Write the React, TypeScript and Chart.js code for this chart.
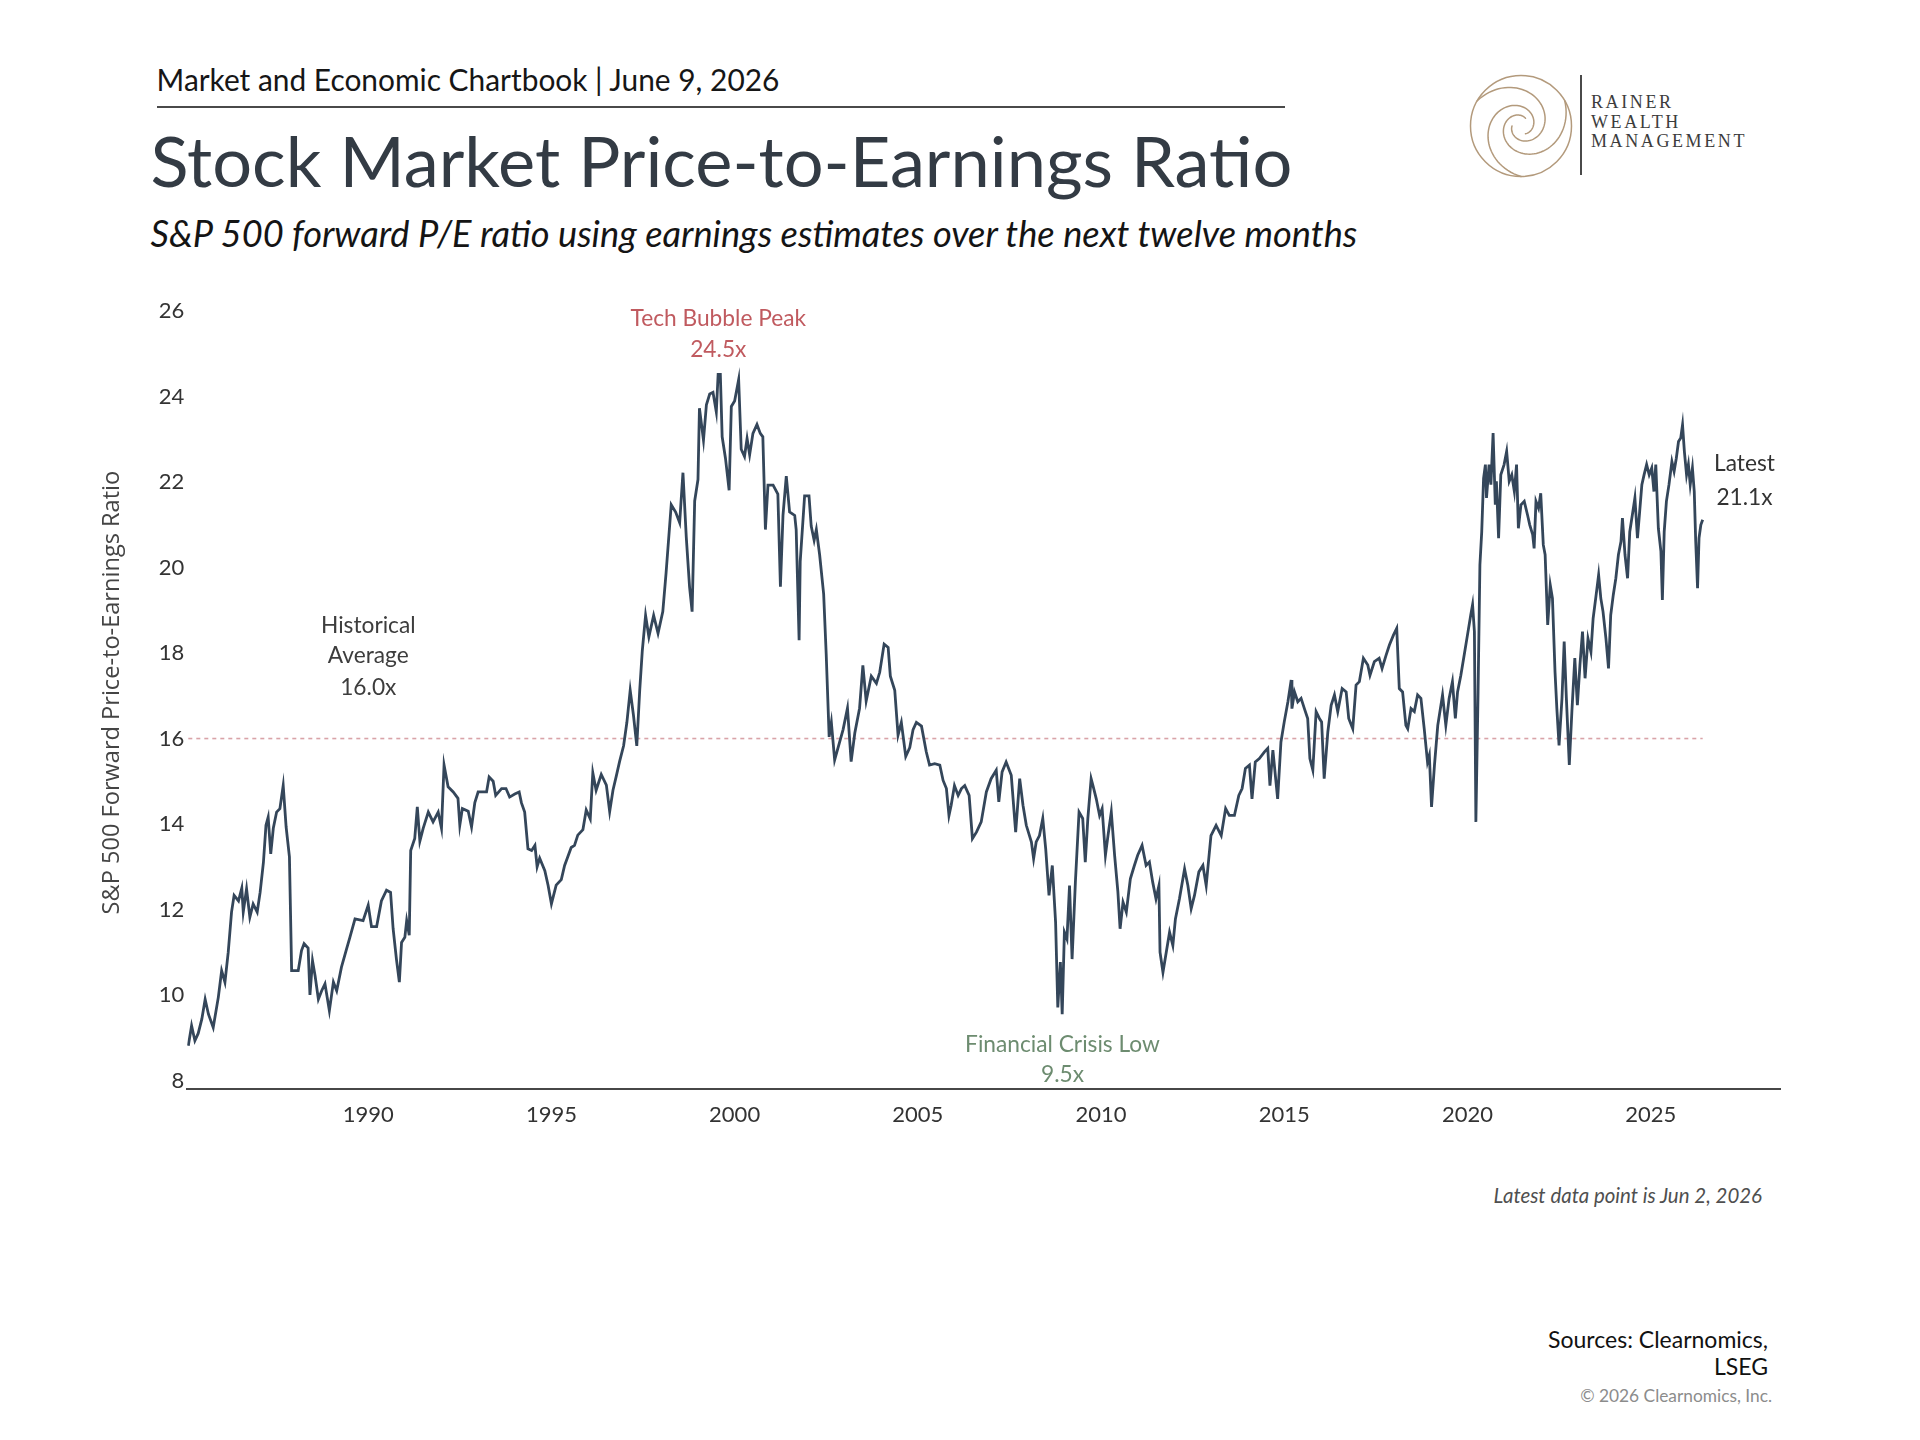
import React, { useEffect, useMemo, useRef } from 'react';
import { Chart, registerables } from 'chart.js';

Chart.register(...registerables);

// ---------- data ----------
const yearTicks: number[] = [1990, 1995, 2000, 2005, 2010, 2015, 2020, 2025];
const valueTicks: number[] = [8, 10, 12, 14, 16, 18, 20, 22, 24, 26];
const historicalAverage = 16.0;
const averageSpan: number[] = [1985.09, 2026.42];

const dates: number[] = [
  1985.09, 1985.18, 1985.27, 1985.36, 1985.46, 1985.55, 1985.64, 1985.77, 1985.91, 1986.0,
  1986.09, 1986.18, 1986.27, 1986.34, 1986.46, 1986.55, 1986.59, 1986.68, 1986.77, 1986.86,
  1986.97, 1987.05, 1987.14, 1987.21, 1987.27, 1987.34, 1987.41, 1987.5, 1987.59, 1987.68,
  1987.76, 1987.85, 1987.91, 1988.09, 1988.18, 1988.25, 1988.36, 1988.41, 1988.48, 1988.55,
  1988.64, 1988.73, 1988.82, 1988.94, 1989.05, 1989.14, 1989.27, 1989.41, 1989.5, 1989.64,
  1989.86, 1990.0, 1990.09, 1990.23, 1990.36, 1990.5, 1990.61, 1990.68, 1990.77, 1990.85,
  1990.91, 1991.0, 1991.05, 1991.12, 1991.16, 1991.27, 1991.34, 1991.41, 1991.5, 1991.64,
  1991.77, 1991.91, 1992.0, 1992.07, 1992.18, 1992.32, 1992.45, 1992.5, 1992.57, 1992.73,
  1992.82, 1992.91, 1993.0, 1993.23, 1993.3, 1993.41, 1993.48, 1993.64, 1993.76, 1993.86,
  1994.0, 1994.12, 1994.18, 1994.27, 1994.36, 1994.46, 1994.55, 1994.61, 1994.68, 1994.82,
  1994.91, 1995.0, 1995.13, 1995.27, 1995.36, 1995.45, 1995.54, 1995.63, 1995.72, 1995.86,
  1995.95, 1996.06, 1996.13, 1996.22, 1996.36, 1996.5, 1996.59, 1996.68, 1996.77, 1996.86,
  1996.97, 1997.06, 1997.15, 1997.24, 1997.33, 1997.41, 1997.48, 1997.57, 1997.66, 1997.79,
  1997.91, 1998.04, 1998.13, 1998.27, 1998.39, 1998.5, 1998.59, 1998.68, 1998.77, 1998.84,
  1998.91, 1999.0, 1999.04, 1999.15, 1999.23, 1999.32, 1999.41, 1999.5, 1999.55, 1999.61,
  1999.66, 1999.75, 1999.85, 1999.91, 2000.0, 2000.11, 2000.18, 2000.27, 2000.34, 2000.41,
  2000.5, 2000.61, 2000.7, 2000.77, 2000.84, 2000.91, 2001.05, 2001.18, 2001.25, 2001.32,
  2001.41, 2001.5, 2001.64, 2001.68, 2001.76, 2001.79, 2001.91, 2002.03, 2002.09, 2002.17,
  2002.23, 2002.32, 2002.43, 2002.5, 2002.58, 2002.64, 2002.73, 2002.85, 2002.96, 2003.08,
  2003.18, 2003.28, 2003.41, 2003.5, 2003.59, 2003.73, 2003.87, 2003.96, 2004.08, 2004.19,
  2004.25, 2004.37, 2004.46, 2004.55, 2004.67, 2004.78, 2004.87, 2004.96, 2005.1, 2005.23,
  2005.32, 2005.46, 2005.6, 2005.69, 2005.78, 2005.85, 2005.91, 2006.0, 2006.1, 2006.19,
  2006.28, 2006.4, 2006.49, 2006.6, 2006.73, 2006.87, 2007.0, 2007.14, 2007.21, 2007.3,
  2007.41, 2007.55, 2007.67, 2007.78, 2007.87, 2007.96, 2008.1, 2008.16, 2008.23, 2008.32,
  2008.41, 2008.49, 2008.58, 2008.67, 2008.76, 2008.82, 2008.89, 2008.94, 2009.0, 2009.07,
  2009.14, 2009.21, 2009.3, 2009.4, 2009.5, 2009.57, 2009.64, 2009.73, 2009.78, 2009.87,
  2009.96, 2010.03, 2010.12, 2010.19, 2010.28, 2010.37, 2010.46, 2010.52, 2010.6, 2010.69,
  2010.8, 2010.91, 2011.0, 2011.12, 2011.23, 2011.32, 2011.41, 2011.5, 2011.58, 2011.61,
  2011.69, 2011.78, 2011.87, 2011.96, 2012.03, 2012.14, 2012.28, 2012.37, 2012.46, 2012.55,
  2012.67, 2012.78, 2012.87, 2013.0, 2013.14, 2013.28, 2013.4, 2013.5, 2013.64, 2013.76,
  2013.85, 2013.94, 2014.05, 2014.12, 2014.21, 2014.32, 2014.46, 2014.55, 2014.61, 2014.69,
  2014.82, 2014.91, 2015.0, 2015.1, 2015.19, 2015.21, 2015.28, 2015.37, 2015.46, 2015.55,
  2015.64, 2015.7, 2015.78, 2015.87, 2015.96, 2016.02, 2016.09, 2016.19, 2016.28, 2016.37,
  2016.46, 2016.58, 2016.69, 2016.76, 2016.87, 2016.96, 2017.05, 2017.16, 2017.28, 2017.34,
  2017.46, 2017.59, 2017.67, 2017.78, 2017.87, 2017.98, 2018.07, 2018.14, 2018.23, 2018.32,
  2018.37, 2018.46, 2018.55, 2018.64, 2018.73, 2018.82, 2018.91, 2018.96, 2019.02, 2019.1,
  2019.19, 2019.32, 2019.41, 2019.5, 2019.59, 2019.67, 2019.73, 2019.82, 2019.91, 2020.0,
  2020.09, 2020.14, 2020.19, 2020.23, 2020.29, 2020.34, 2020.39, 2020.44, 2020.49, 2020.52,
  2020.59, 2020.64, 2020.7, 2020.76, 2020.79, 2020.85, 2020.91, 2021.0, 2021.07, 2021.14,
  2021.21, 2021.28, 2021.34, 2021.39, 2021.46, 2021.55, 2021.64, 2021.7, 2021.78, 2021.82,
  2021.87, 2021.94, 2022.0, 2022.07, 2022.12, 2022.19, 2022.26, 2022.32, 2022.39, 2022.44,
  2022.5, 2022.58, 2022.64, 2022.7, 2022.78, 2022.85, 2022.93, 2023.0, 2023.07, 2023.14,
  2023.21, 2023.29, 2023.37, 2023.43, 2023.5, 2023.58, 2023.64, 2023.7, 2023.78, 2023.85,
  2023.91, 2023.98, 2024.05, 2024.12, 2024.19, 2024.23, 2024.3, 2024.37, 2024.43, 2024.5,
  2024.57, 2024.64, 2024.7, 2024.76, 2024.82, 2024.89, 2024.96, 2025.03, 2025.09, 2025.14,
  2025.21, 2025.28, 2025.32, 2025.37, 2025.43, 2025.5, 2025.58, 2025.64, 2025.7, 2025.76,
  2025.82, 2025.87, 2025.92, 2025.98, 2026.03, 2026.08, 2026.14, 2026.19, 2026.23, 2026.28,
  2026.32, 2026.37, 2026.42,
];

const peRatio: number[] = [
  8.81, 9.28, 8.93, 9.1, 9.44, 9.9, 9.55, 9.24, 9.95, 10.57,
  10.3, 11.0, 11.94, 12.33, 12.2, 12.5, 11.94, 12.48, 11.82, 12.13,
  11.94, 12.4, 13.1, 13.97, 14.16, 13.3, 13.9, 14.28, 14.36, 14.9,
  13.93, 13.23, 10.57, 10.57, 11.04, 11.2, 11.1, 10.0, 10.8, 10.45,
  9.9, 10.1, 10.26, 9.63, 10.3, 10.1, 10.65, 11.08, 11.35, 11.78,
  11.74, 12.1, 11.6, 11.6, 12.2, 12.45, 12.4, 11.55, 10.84, 10.3,
  11.23, 11.35, 11.74, 11.4, 13.38, 13.66, 14.4, 13.6, 13.9, 14.28,
  14.05, 14.28, 13.9, 15.38, 14.87, 14.75, 14.6, 13.97, 14.36, 14.3,
  13.93, 14.5, 14.75, 14.75, 15.1, 15.0, 14.67, 14.83, 14.83, 14.63,
  14.7, 14.75, 14.5, 14.28, 13.42, 13.38, 13.5, 13.0, 13.2, 12.91,
  12.56, 12.13, 12.57, 12.7, 13.03, 13.24, 13.45, 13.5, 13.74, 13.87,
  14.33, 14.12, 15.2, 14.79, 15.16, 14.91, 14.29, 14.79, 15.12, 15.46,
  15.83, 16.38, 17.13, 16.54, 15.83, 17.13, 18.05, 18.88, 18.38, 18.88,
  18.46, 18.97, 19.88, 21.47, 21.3, 21.05, 22.22, 20.72, 19.55, 18.97,
  21.56, 22.06, 23.73, 22.98, 23.81, 24.06, 24.1, 23.64, 24.52, 24.52,
  23.06, 22.56, 21.81, 23.77, 23.9, 24.4, 22.77, 22.6, 23.02, 22.64,
  23.14, 23.35, 23.14, 23.06, 20.89, 21.93, 21.93, 21.72, 19.55, 21.22,
  22.14, 21.3, 21.22, 20.89, 18.3, 20.14, 21.68, 21.68, 20.97, 20.64,
  20.89, 20.3, 19.38, 17.96, 16.04, 16.38, 15.5, 15.87, 16.21, 16.71,
  15.46, 16.13, 16.71, 17.71, 16.88, 17.46, 17.29, 17.55, 18.21, 18.13,
  17.46, 17.13, 16.08, 16.38, 15.58, 15.79, 16.21, 16.38, 16.29, 15.69,
  15.38, 15.41, 15.38, 15.02, 14.83, 14.2, 14.44, 14.9, 14.67, 14.83,
  14.9, 14.67, 13.66, 13.81, 14.05, 14.75, 15.06, 15.26, 14.52, 15.22,
  15.45, 15.14, 13.81, 15.06, 14.44, 13.97, 13.58, 13.19, 13.58, 13.73,
  14.13, 13.42, 12.33, 13.03, 11.7, 9.71, 10.77, 9.55, 11.47, 11.31,
  12.56, 10.84, 12.64, 14.28, 14.13, 13.11, 14.13, 15.06, 14.9, 14.59,
  14.2, 14.36, 13.27, 13.73, 14.28, 13.27, 12.41, 11.55, 12.17, 11.94,
  12.72, 13.03, 13.27, 13.5, 13.03, 13.11, 12.64, 12.25, 12.56, 11.0,
  10.53, 11.0, 11.47, 11.16, 11.78, 12.25, 12.95, 12.56, 12.02, 12.33,
  12.88, 13.03, 12.56, 13.73, 13.97, 13.73, 14.36, 14.2, 14.2, 14.67,
  14.83, 15.3, 15.38, 14.59, 15.45, 15.53, 15.69, 15.77, 14.9, 15.73,
  14.59, 15.92, 16.39, 16.86, 17.37, 16.7, 17.09, 16.86, 16.94, 16.7,
  16.47, 15.53, 15.26, 16.63, 16.47, 16.39, 15.06, 16.16, 16.78, 17.02,
  16.63, 17.17, 17.09, 16.47, 16.23, 17.25, 17.33, 17.88, 17.72, 17.48,
  17.8, 17.88, 17.64, 17.95, 18.19, 18.42, 18.58, 17.17, 17.09, 16.31,
  16.23, 16.7, 16.63, 17.02, 16.94, 16.23, 15.45, 15.61, 14.4, 15.38,
  16.31, 17.02, 16.31, 16.94, 17.33, 16.47, 17.09, 17.48, 17.95, 18.42,
  18.89, 19.13, 18.5, 14.05, 17.09, 20.06, 20.84, 22.09, 22.41, 21.63,
  22.41, 21.94, 23.15, 21.47, 22.02, 20.69, 22.17, 22.41, 22.72, 22.02,
  22.17, 21.78, 22.41, 20.92, 21.47, 21.55, 21.23, 21.0, 20.77, 20.45,
  21.55, 21.39, 21.74, 20.53, 20.3, 18.66, 19.59, 19.28, 17.56, 16.7,
  15.84, 16.94, 18.27, 16.94, 15.38, 16.63, 17.88, 16.78, 17.72, 18.5,
  17.41, 18.34, 18.03, 18.81, 19.28, 19.83, 19.28, 18.97, 18.34, 17.64,
  18.89, 19.36, 19.75, 20.3, 20.61, 21.16, 20.3, 19.75, 20.84, 21.23,
  21.63, 20.69, 21.31, 21.94, 22.17, 22.41, 22.17, 22.33, 21.78, 22.41,
  20.92, 20.38, 19.24, 20.84, 21.55, 21.94, 22.48, 22.25, 22.56, 22.95,
  23.03, 23.34, 22.72, 22.17, 22.41, 21.94, 22.33, 21.78, 20.61, 19.52,
  20.69, 21.0, 21.12,
];

// ---------- text ----------
const headerText = 'Market and Economic Chartbook | June 9, 2026';
const titleText = 'Stock Market Price-to-Earnings Ratio';
const subtitleText = 'S&P 500 forward P/E ratio using earnings estimates over the next twelve months';
const yAxisTitle = 'S&P 500 Forward Price-to-Earnings Ratio';

const SANS = 'Lato, "Noto Sans", sans-serif';
const AXIS_TITLE_FONT = '"Open Sans", "Noto Sans", sans-serif';
const SERIF = '"Liberation Serif", "DejaVu Serif", serif';

function fitSize(text: string, family: string, target: number, style = 'normal', weight = 400): number {
  const ctx = document.createElement('canvas').getContext('2d');
  if (!ctx) return 20;
  ctx.font = `${style} ${weight} 100px ${family}`;
  const w = ctx.measureText(text).width || 1;
  return (100 * target) / w;
}

type TextProps = {
  text: string;
  x: number;
  y: number;
  size: number;
  color: string;
  align: 'left' | 'center' | 'right';
  family?: string;
  italic?: boolean;
  spacing?: number;
};

function Label({ text, x, y, size, color, align, family = SANS, italic, spacing }: TextProps) {
  const tx = align === 'left' ? '0' : align === 'center' ? '-50%' : '-100%';
  return (
    <div
      style={{
        position: 'absolute',
        left: x,
        top: y,
        transform: `translate(${tx}, -50%)`,
        fontFamily: family,
        fontSize: size,
        fontStyle: italic ? 'italic' : 'normal',
        lineHeight: 1,
        color,
        whiteSpace: 'nowrap',
        letterSpacing: spacing ? `${spacing}px` : undefined,
      }}
    >
      {text}
    </div>
  );
}

// swirl arm of the logo: a curve that starts on the outer ring and curls inward
function armPath(startDeg: number, sweepDeg: number, r0: number, r1: number): string {
  const steps = 80;
  let d = '';
  for (let i = 0; i <= steps; i++) {
    const t = i / steps;
    const a = ((startDeg + sweepDeg * t) * Math.PI) / 180;
    const r = r0 * Math.pow(r1 / r0, t);
    const px = r * Math.cos(a);
    const py = r * Math.sin(a);
    d += `${i === 0 ? 'M' : 'L'}${px.toFixed(2)},${py.toFixed(2)} `;
  }
  return d;
}

function Logo() {
  return (
    <>
      <svg
        style={{ position: 'absolute', left: 1461, top: 66 }}
        width={120}
        height={120}
        viewBox="-60 -60 120 120"
      >
        <g fill="none" stroke="#b39a7c" strokeWidth={1.5} strokeLinecap="round">
          <circle cx={0} cy={0} r={50.5} />
          <path d={armPath(-150, 330, 50.5, 9)} />
          <path d={armPath(-30, 330, 50.5, 9)} />
          <path d={armPath(90, 330, 50.5, 9)} />
        </g>
      </svg>
      <div
        style={{
          position: 'absolute',
          left: 1580,
          top: 75,
          width: 1.6,
          height: 100,
          background: '#4a4a4a',
        }}
      />
      <Label text="RAINER" x={1591} y={102} size={18} color="#3c3c3c" align="left" family={SERIF} spacing={2.6} />
      <Label text="WEALTH" x={1591} y={122} size={18} color="#3c3c3c" align="left" family={SERIF} spacing={2.6} />
      <Label text="MANAGEMENT" x={1591} y={141} size={18} color="#3c3c3c" align="left" family={SERIF} spacing={2.6} />
    </>
  );
}

export default function App() {
  const canvasRef = useRef<HTMLCanvasElement | null>(null);

  const sizes = useMemo(() => {
    return {
      header: fitSize(headerText, SANS, 624),
      title: fitSize(titleText, SANS, 1142),
      subtitle: fitSize(subtitleText, SANS, 1209, 'italic'),
      annot: fitSize('Financial Crisis Low', SANS, 195),
      note: fitSize('Latest data point is Jun 2, 2026', SANS, 269, 'italic'),
      sources: fitSize('Sources: Clearnomics,', SANS, 220),
      copy: fitSize('© 2026 Clearnomics, Inc.', SANS, 192),
      axisTitle: fitSize(yAxisTitle, AXIS_TITLE_FONT, 444),
    };
  }, []);

  useEffect(() => {
    const canvas = canvasRef.current;
    if (!canvas) return;
    const points = dates.map((d, i) => ({ x: d, y: peRatio[i] }));
    const avgPoints = averageSpan.map((d) => ({ x: d, y: historicalAverage }));
    const axisTitleSize = sizes.axisTitle;

    const chart = new Chart(canvas, {
      type: 'line',
      data: {
        datasets: [
          {
            data: points,
            borderColor: '#34465a',
            borderWidth: 2.8,
            pointRadius: 0,
            tension: 0,
            order: 1,
          },
          {
            data: avgPoints,
            borderColor: '#d9a3a8',
            borderWidth: 1.6,
            borderDash: [4, 4],
            pointRadius: 0,
            order: 2,
          },
        ],
      },
      options: {
        responsive: false,
        animation: false,
        devicePixelRatio: 1,
        layout: { padding: { top: 15.8, right: 120, bottom: 0, left: 0 } },
        plugins: {
          legend: { display: false },
          tooltip: { enabled: false },
        },
        scales: {
          x: {
            type: 'linear',
            min: 1985.06,
            max: 2028.53,
            afterBuildTicks: (scale: any) => {
              scale.ticks = yearTicks.map((v) => ({ value: v }));
            },
            afterFit: (scale: any) => {
              scale.height = 71;
            },
            grid: { display: false, drawTicks: false },
            border: { display: true, color: '#474747', width: 2 },
            ticks: {
              padding: 13,
              color: '#333333',
              font: { family: SANS, size: 22 },
              maxRotation: 0,
              autoSkip: false,
              callback: (v: any) => String(v),
            },
          },
          y: {
            type: 'linear',
            min: 7.8,
            max: 26.35,
            afterBuildTicks: (scale: any) => {
              scale.ticks = valueTicks.map((v) => ({ value: v }));
            },
            afterFit: (scale: any) => {
              scale.width = 187.2;
            },
            grid: { display: false, drawTicks: false },
            border: { display: false },
            ticks: {
              padding: 3,
              color: '#333333',
              font: { family: SANS, size: 22 },
              callback: (v: any) => String(v),
            },
            title: {
              display: true,
              text: yAxisTitle,
              color: '#444444',
              font: { family: AXIS_TITLE_FONT, size: axisTitleSize },
              padding: { top: 112.6 - axisTitleSize * 0.6, bottom: 0 },
            },
          },
        },
      },
    });
    return () => chart.destroy();
  }, [sizes]);

  return (
    <div
      style={{
        position: 'absolute',
        left: 0,
        top: 0,
        width: 1920,
        height: 1440,
        background: '#ffffff',
        overflow: 'hidden',
      }}
    >
      <Label text={headerText} x={156.6} y={80} size={sizes.header} color="#161616" align="left" />
      <div
        style={{
          position: 'absolute',
          left: 156.6,
          top: 106,
          width: 1128.4,
          height: 1.6,
          background: '#4a4a4a',
        }}
      />
      <Label text={titleText} x={150.5} y={160} size={sizes.title} color="#333b44" align="left" />
      <Label text={subtitleText} x={150.5} y={233} size={sizes.subtitle} color="#141414" align="left" italic />
      <Logo />

      <canvas
        ref={canvasRef}
        width={1900}
        height={880}
        style={{ position: 'absolute', left: 0, top: 280 }}
      />

      <Label text="Tech Bubble Peak" x={718.3} y={318} size={sizes.annot} color="#c05a5f" align="center" />
      <Label text="24.5x" x={718.3} y={349} size={sizes.annot} color="#c05a5f" align="center" />
      <Label text="Historical" x={368.3} y={625} size={sizes.annot} color="#3d3d3d" align="center" />
      <Label text="Average" x={368.3} y={655} size={sizes.annot} color="#3d3d3d" align="center" />
      <Label text="16.0x" x={368.3} y={687} size={sizes.annot} color="#3d3d3d" align="center" />
      <Label text="Financial Crisis Low" x={1062.5} y={1044} size={sizes.annot} color="#6d8c70" align="center" />
      <Label text="9.5x" x={1062.5} y={1074} size={sizes.annot} color="#6d8c70" align="center" />
      <Label text="Latest" x={1744.5} y={463} size={sizes.annot} color="#333333" align="center" />
      <Label text="21.1x" x={1744.5} y={497} size={sizes.annot} color="#333333" align="center" />

      <Label text="Latest data point is Jun 2, 2026" x={1762} y={1195} size={sizes.note} color="#4f4f4f" align="right" italic />
      <Label text="Sources: Clearnomics," x={1768} y={1340} size={sizes.sources} color="#111111" align="right" />
      <Label text="LSEG" x={1768} y={1367} size={sizes.sources} color="#111111" align="right" />
      <Label text="© 2026 Clearnomics, Inc." x={1772} y={1396} size={sizes.copy} color="#8c8c8c" align="right" />
    </div>
  );
}
